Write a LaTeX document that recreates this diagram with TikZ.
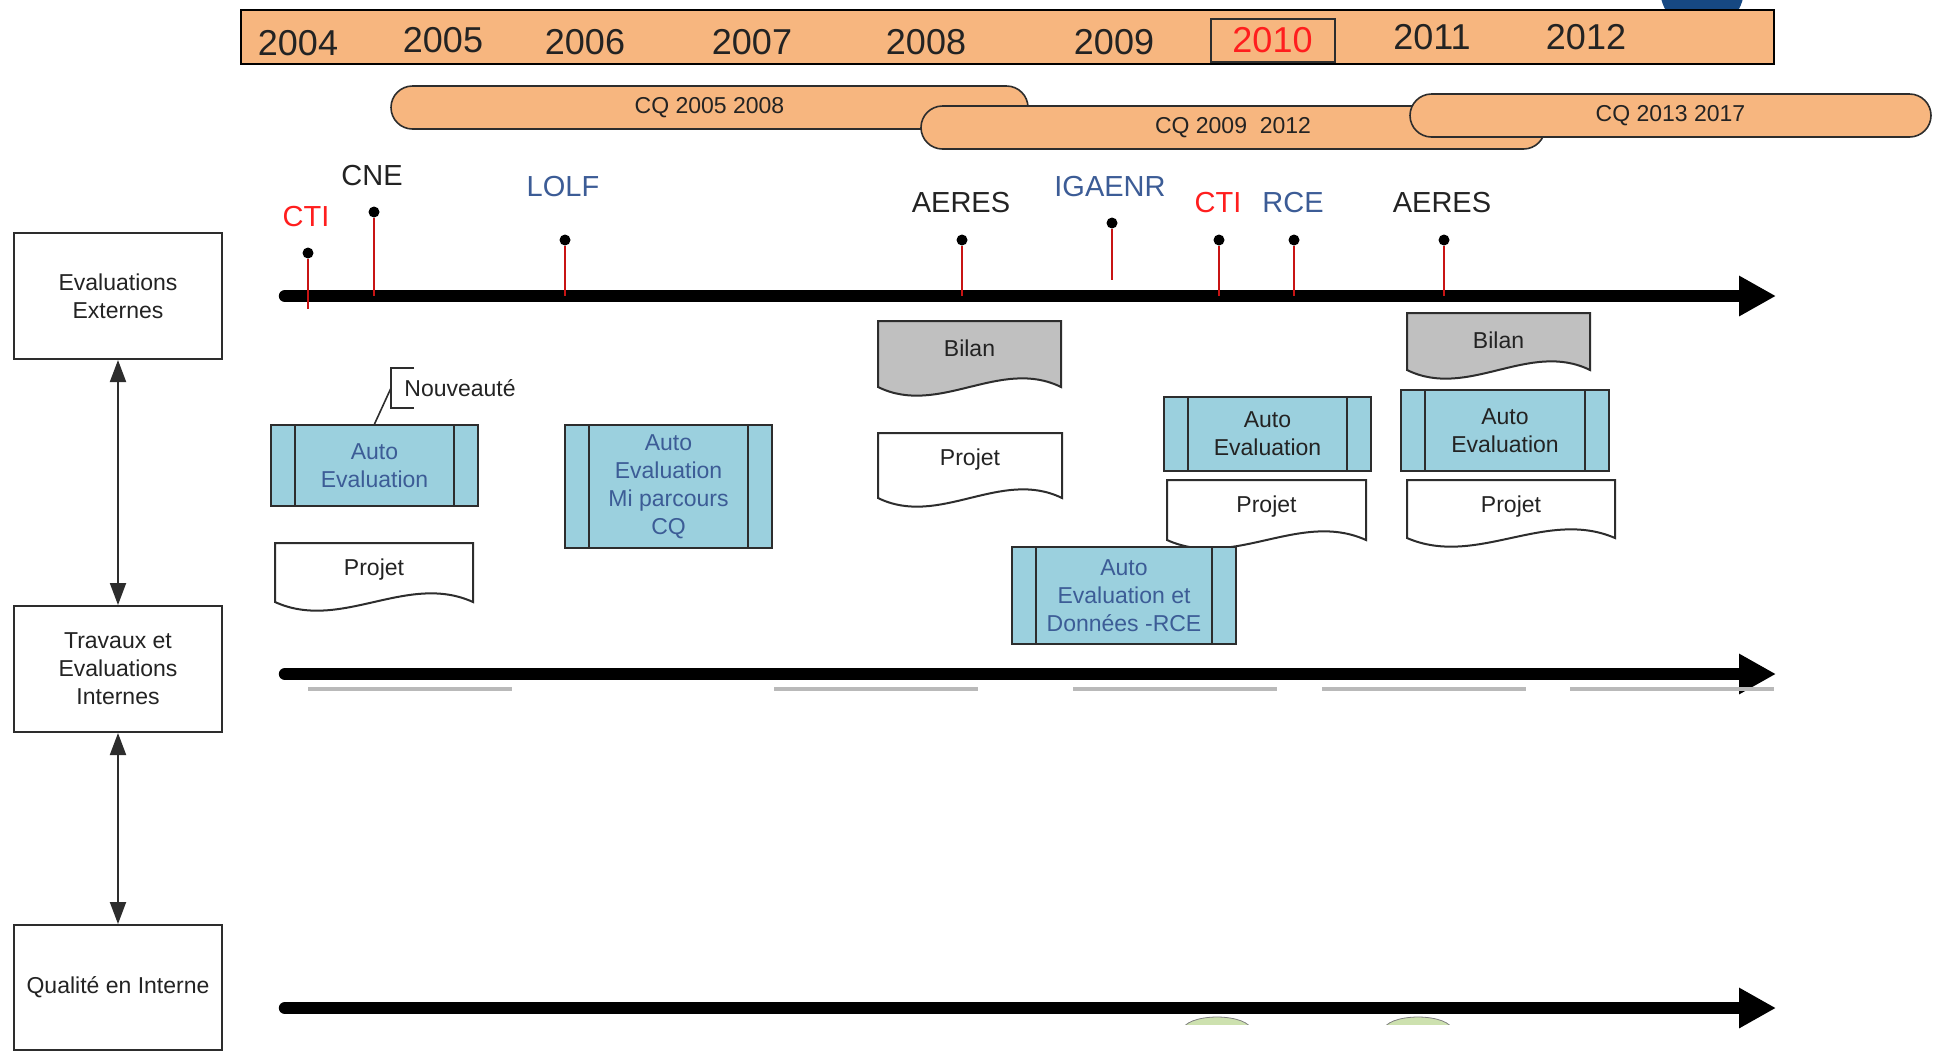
\documentclass[tikz,border=0pt]{standalone}
\usepackage{fontspec}
\setmainfont{Liberation Sans}
\usetikzlibrary{arrows.meta}

\definecolor{barorange}{RGB}{247,182,127}
\definecolor{aeblue}{RGB}{155,208,222}
\definecolor{bilangray}{RGB}{192,192,192}
\definecolor{textblue}{RGB}{60,92,150}
\definecolor{textred}{RGB}{255,30,30}
\definecolor{pinred}{RGB}{200,20,20}
\definecolor{topblue}{RGB}{22,72,130}
\definecolor{arcgreen}{RGB}{205,225,175}
\definecolor{edgegray}{RGB}{45,45,45}
\definecolor{darktext}{RGB}{35,35,35}

\newcommand{\smalltext}{\fontsize{11.5}{14}\selectfont}
\newcommand{\yeartext}{\fontsize{18}{22}\selectfont}
\newcommand{\eventtext}{\fontsize{14.5}{17}\selectfont}

\tikzset{
    year bar/.style={draw=black, line width=1pt, fill=barorange, minimum width=766.5pt, minimum height=27pt, inner sep=0pt},
    year/.style={font=\yeartext, text=darktext, inner sep=0pt},
    cq bar/.style={draw=edgegray, line width=0.8pt, fill=barorange, rounded corners=10.75pt, minimum height=21.5pt, inner sep=0pt, font=\smalltext, text=darktext},
    side box/.style={draw=edgegray, line width=1pt, fill=white, minimum width=104pt, minimum height=63pt, inner sep=0pt, align=center, font=\smalltext, text=darktext},
    link/.style={{Triangle[length=11pt, width=8pt]}-{Triangle[length=11pt, width=8pt]}, line width=1pt, edgegray},
    timeline/.style={-{Triangle[length=18.5pt, width=19pt]}, line width=6.2pt, line cap=round, black},
    pin dot/.style={circle, fill=black, minimum size=5.5pt, inner sep=0pt},
    pin line/.style={pinred, line width=1pt},
    event/.style={font=\eventtext, text=darktext, inner sep=0pt},
    auto eval/.style={draw=edgegray, line width=1pt, fill=aeblue, inner sep=0pt, align=center, font=\smalltext,
        path picture={
            \draw [edgegray, line width=1pt] ([xshift=12pt]path picture bounding box.north west) -- ([xshift=12pt]path picture bounding box.south west);
            \draw [edgegray, line width=1pt] ([xshift=-12pt]path picture bounding box.north east) -- ([xshift=-12pt]path picture bounding box.south east);
        }},
    docline/.style={draw=edgegray, line width=1pt},
    doc text/.style={font=\smalltext, text=darktext, inner sep=0pt}
}

\begin{document}
\begin{tikzpicture}[x=0.5pt, y=-0.5pt]

    \useasboundingbox (0, 0) rectangle (1937, 1057);

    % disc cut by the top edge
    \begin{scope}
        \clip (0, 0) rectangle (1937, 1057);
        \fill [topblue] (1702, -11) circle (21pt);
    \end{scope}

    \node [year bar] (years) at (1007.5, 37) {};
    \foreach \yr/\x/\y in {2004/298/43, 2005/443/40, 2006/585/42, 2007/752/42, 2008/926/42, 2009/1114/42, 2011/1432/37, 2012/1586/37}
        \node [year] (y\yr) at (\x, \y) {\yr};
    \node [year, draw=edgegray, line width=1pt, text=textred, minimum width=62pt, minimum height=21.5pt] (y2010) at (1272.5, 40.5) {2010};

    \node [cq bar, minimum width=318.5pt] (cq1) at (709.5, 107.5) {CQ 2005 2008};
    \node [cq bar, minimum width=312pt] (cq2) at (1233, 127.5) {CQ 2009~~2012};
    \node [cq bar, minimum width=260.5pt] (cq3) at (1670.5, 115.5) {CQ 2013 2017};

    \node [side box] (ext) at (118, 296) {Evaluations\\Externes};
    \node [side box] (trav) at (118, 669) {Travaux et\\Evaluations\\Internes};
    \node [side box, minimum height=62.5pt] (qual) at (118, 987.5) {Qualité en Interne};
    \draw [link] (ext) -- (trav);
    \draw [link] (trav) -- (qual);

    \foreach \nm/\y in {ext/296, trav/674, qual/1008}
    {
        \coordinate (\nm tl start) at (285, \y);
        \coordinate (\nm tl end) at (1776, \y);
        \draw [timeline] (\nm tl start) -- (\nm tl end);
    }

    \foreach \nm/\x/\y/\e in {cti1/308/253/309, cne/374/212/296, lolf/565/240/296, aeres1/962/240/296, igaenr/1112/223/280, cti2/1219/240/296, rce/1294/240/296, aeres2/1444/240/296}
    {
        \node [pin dot] (\nm) at (\x, \y) {};
        \coordinate (\nm foot) at (\x, \e);
        \draw [pin line] (\nm) -- (\nm foot);
    }

    \node [event, text=textred] (cti1 label) at (306, 217) {CTI};
    \node [event] (cne label) at (372, 176) {CNE};
    \node [event, text=textblue] (lolf label) at (563, 187) {LOLF};
    \node [event] (aeres1 label) at (961, 203) {AERES};
    \node [event, text=textblue] (igaenr label) at (1110, 187) {IGAENR};
    \node [event, text=textred] (cti2 label) at (1218, 203) {CTI};
    \node [event, text=textblue] (rce label) at (1293, 203) {RCE};
    \node [event] (aeres2 label) at (1442, 203) {AERES};

    % documents with a wavy bottom
    \foreach \nm/\x/\y/\w/\h/\col/\txt in {projet1/275/543/198/59/white/Projet, bilan1/878/321/183/66/bilangray/Bilan, projet2/878/433/184/65/white/Projet, projet3/1167/480/199/60/white/Projet, bilan2/1407/313/183/57/bilangray/Bilan, projet4/1407/480/208/58/white/Projet}
    {
        \draw [docline, fill=\col] (\x, \y) -- ++(\w, 0) -- ++(0, \h) .. controls +({-\w/3}, -30) and +({\w/3}, 30) .. ++(-\w, 0) -- cycle;
        \node [doc text] (\nm) at ({\x + \w/2}, {\y + 27}) {\txt};
    }

    \node [auto eval, text=textblue, minimum width=103.5pt, minimum height=40.5pt] (ae1) at (374.5, 465.5) {Auto\\Evaluation};
    \node [auto eval, text=textblue, minimum width=103.5pt, minimum height=61.5pt] (ae2) at (668.5, 486.5) {Auto\\Evaluation\\Mi parcours\\CQ};
    \node [auto eval, text=darktext, minimum width=103.5pt, minimum height=37pt] (ae3) at (1267.5, 434) {Auto\\Evaluation};
    \node [auto eval, text=darktext, minimum width=104pt, minimum height=40.5pt] (ae4) at (1505, 430.5) {Auto\\Evaluation};
    \node [auto eval, text=textblue, minimum width=112pt, minimum height=48.5pt] (ae5) at (1124, 595.5) {Auto\\Evaluation et\\Données -RCE};

    \node [doc text, anchor=west, minimum height=20pt, inner xsep=6.5pt] (nouv) at (391, 388) {Nouveauté};
    \draw [edgegray, line width=1pt] ([xshift=11.5pt]nouv.north west) -- (nouv.north west) -- (nouv.south west) -- ([xshift=11.5pt]nouv.south west);
    \draw [edgegray, line width=0.8pt] (nouv.west) -- (ae1.north);

    % cut off shapes at the lower edge
    \foreach \x in {308, 774, 1073, 1322, 1570}
        \fill [gray!55] (\x, 687) rectangle ++(204, 4);
    \begin{scope}
        \clip (0, 1010) rectangle (1937, 1024);
        \foreach \x in {1217, 1418}
            \draw [gray, fill=arcgreen] (\x, 1030) ellipse (17pt and 6.5pt);
    \end{scope}

\end{tikzpicture}
\end{document}
